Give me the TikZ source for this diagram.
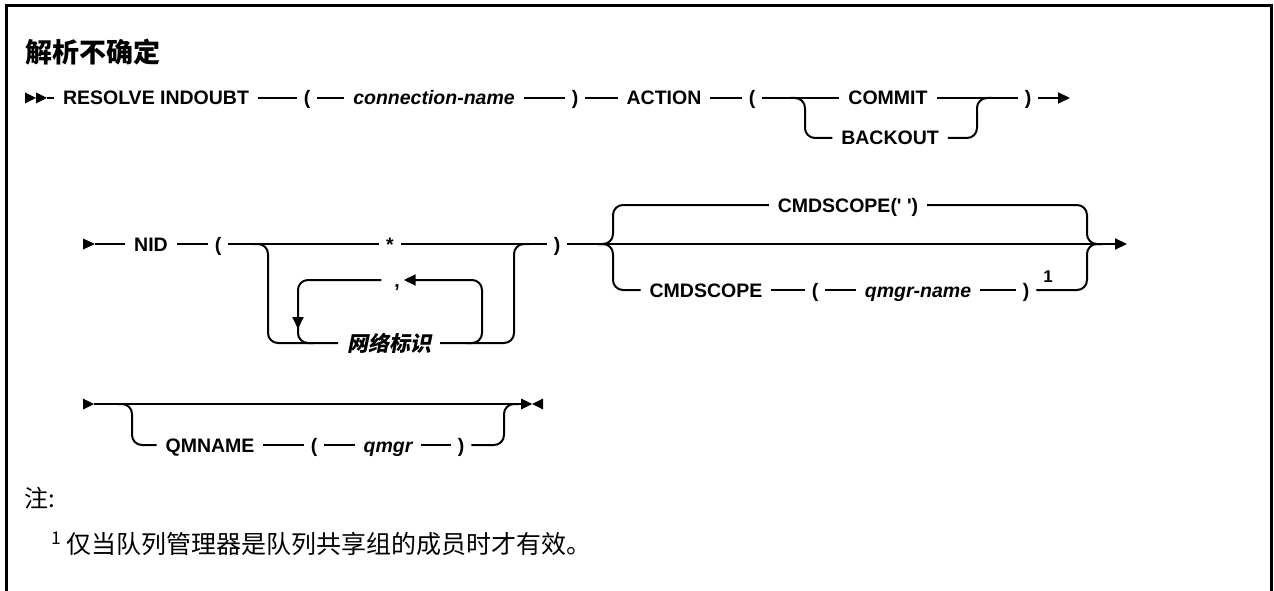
\documentclass[tikz,border=0pt]{standalone}
\usepackage{fontspec}
\setmainfont{Liberation Sans}
\newfontfamily\cjk{Noto Sans CJK SC}
\newfontfamily\cjkslant[FakeSlant=0.2]{Noto Sans CJK SC}
\usetikzlibrary{arrows.meta}
\newcommand\kwfont{\fontsize{19.5}{23}\selectfont\bfseries}
\newcommand\varfont{\fontsize{19.5}{23}\selectfont\bfseries\itshape}
\begin{document}
\begin{tikzpicture}[x=1pt,y=-1pt,line width=2pt,
  kw/.style={font=\kwfont, inner xsep=8pt, inner ysep=0pt, text height=14pt, text depth=0pt},
  var/.style={kw, font=\varfont},
  par/.style={kw, inner xsep=6pt},
  rail/.style={line width=2pt, rounded corners=10pt},
  arrowend/.style={-{Triangle[length=12pt,width=11pt]}},
  headtri/.style={fill=black}]
\useasboundingbox (0,0) rectangle (1274,591);
\draw[line width=3pt] (6,6) rectangle (1271,640);

% title
\node[anchor=west, inner sep=0pt, font={\cjk\bfseries\fontsize{27}{30}\selectfont}] (title) at (24,52) {解析不确定};

% ---------------- row 1
\fill[headtri] (25,92.5) -- (36,98) -- (25,103.5) -- cycle;
\fill[headtri] (36,92.5) -- (47,98) -- (36,103.5) -- cycle;
\coordinate (s1) at (47,98);
\node[kw]  (resolve) at (156,98) {RESOLVE INDOUBT};
\node[par] (lp1) at (307,98) {(};
\node[var] (conn) at (434,98) {connection-name};
\node[par] (rp1) at (575,98) {)};
\node[kw]  (action) at (664,98) {ACTION};
\node[par] (lp2) at (752,98) {(};
\node[kw]  (commit) at (888,98) {COMMIT};
\node[kw]  (backout) at (890,138) {BACKOUT};
\node[par] (rp2) at (1028,98) {)};
\coordinate (e1) at (1070,98);
\coordinate (j1l) at (805,98);
\coordinate (j1r) at (977,98);
\draw (s1) -- (resolve);
\draw (resolve) -- (lp1);
\draw (lp1) -- (conn);
\draw (conn) -- (rp1);
\draw (rp1) -- (action);
\draw (action) -- (lp2);
\draw (lp2) -- (commit);
\draw (commit) -- (rp2);
\draw[arrowend] (rp2) -- (e1);
\draw[rail] ([xshift=-15pt]j1l) -- (j1l) -- (j1l |- backout) -- (backout.west);
\draw[rail] (backout.east) -- (j1r |- backout) -- (j1r) -- ([xshift=15pt]j1r);

% ---------------- row 2
\fill[headtri] (83,238.5) -- (95,244) -- (83,249.5) -- cycle;
\coordinate (s2) at (95,244);
\node[kw]  (nid) at (151,244) {NID};
\node[par] (lp3) at (218,244) {(};
\node[kw, inner xsep=6pt] (star) at (390,244) {*};
\node[par] (rp3) at (557,244) {)};
\node[font={\cjkslant\bfseries\fontsize{21}{24}\selectfont}, inner xsep=8pt, inner ysep=0pt, text height=16pt, text depth=0pt] (ident) at (389,343) {网络标识};
\node[kw, inner xsep=3pt] (comma) at (397,280) {,};
\coordinate (j2l) at (268,244);
\coordinate (j2r) at (514,244);
\coordinate (l2l) at (298,280);
\coordinate (l2r) at (482,280);
\coordinate (l2a) at (298,329);
\coordinate (l2b) at (298,318);
\draw (s2) -- (nid);
\draw (nid) -- (lp3);
\draw (lp3) -- (star);
\draw (star) -- (rp3);
\draw[rail] ([xshift=-15pt]j2l) -- (j2l) -- (j2l |- ident) -- (ident.west);
\draw[rail] (ident.east) -- (j2r |- ident) -- (j2r) -- ([xshift=15pt]j2r);
\draw[rail, arrowend] ([xshift=-16pt]l2r |- ident) -- (l2r |- ident) -- (l2r) -- (comma.east);
\draw[rail, arrowend, shorten <=9pt] (comma.west) -- (l2l) -- (l2a);
\draw[rail] (l2b) -- (l2l |- ident) -- ([xshift=16pt]l2l |- ident);

% cmdscope block
\node[kw]  (cmdtop) at (848,205) {CMDSCOPE(\textquotesingle\ \textquotesingle)};
\node[kw]  (cmdbot) at (706,290) {CMDSCOPE};
\node[par] (lp4) at (815,290) {(};
\node[var] (qmn) at (918,290) {qmgr-name};
\node[par] (rp4) at (1026,290) {)};
\node[font={\fontsize{17}{19}\selectfont\bfseries}, inner sep=0pt] (fn1) at (1048,277) {1};
\coordinate (e2) at (1127,244);
\coordinate (j3l) at (613,244);
\coordinate (j3r) at (1087,244);
\draw[arrowend] (rp3) -- (e2);
\draw[rail] ([xshift=-15pt]j3l) -- (j3l) -- (j3l |- cmdtop) -- (cmdtop.west);
\draw[rail] (cmdtop.east) -- (j3r |- cmdtop) -- (j3r) -- ([xshift=15pt]j3r);
\draw[rail] ([xshift=-15pt]j3l) -- (j3l) -- (j3l |- cmdbot) -- (cmdbot.west);
\draw (cmdbot) -- (lp4);
\draw (lp4) -- (qmn);
\draw (qmn) -- (rp4);
\draw[rail] (rp4.east) -- (j3r |- rp4) -- (j3r) -- ([xshift=15pt]j3r);

% ---------------- row 3
\fill[headtri] (83,398.5) -- (94,404) -- (83,409.5) -- cycle;
\coordinate (s3) at (94,404);
\coordinate (e3) at (521,404);
\fill[headtri] (521,398.5) -- (532,404) -- (521,409.5) -- cycle;
\fill[headtri] (543,398.5) -- (532,404) -- (543,409.5) -- cycle;
\node[kw]  (qmname) at (210,445) {QMNAME};
\node[par] (lp5) at (314,445) {(};
\node[var] (qmgr) at (388,445) {qmgr};
\node[par] (rp5) at (461,445) {)};
\coordinate (j4l) at (132,404);
\coordinate (j4r) at (504,404);
\draw (s3) -- (e3);
\draw[rail] ([xshift=-14pt]j4l) -- (j4l) -- (j4l |- qmname) -- (qmname.west);
\draw (qmname) -- (lp5);
\draw (lp5) -- (qmgr);
\draw (qmgr) -- (rp5);
\draw[rail] (rp5.east) -- (j4r |- rp5) -- (j4r) -- ([xshift=14pt]j4r);

% notes
\node[anchor=west, inner sep=0pt, font={\cjk\fontsize{24}{28}\selectfont}] (zhu) at (23,498) {注:};
\node[anchor=west, inner sep=0pt, font={\cjk\fontsize{25}{28}\selectfont}] (note) at (50,544) {\textsuperscript{1}\hspace{5pt}仅当队列管理器是队列共享组的成员时才有效。};
\end{tikzpicture}
\end{document}
